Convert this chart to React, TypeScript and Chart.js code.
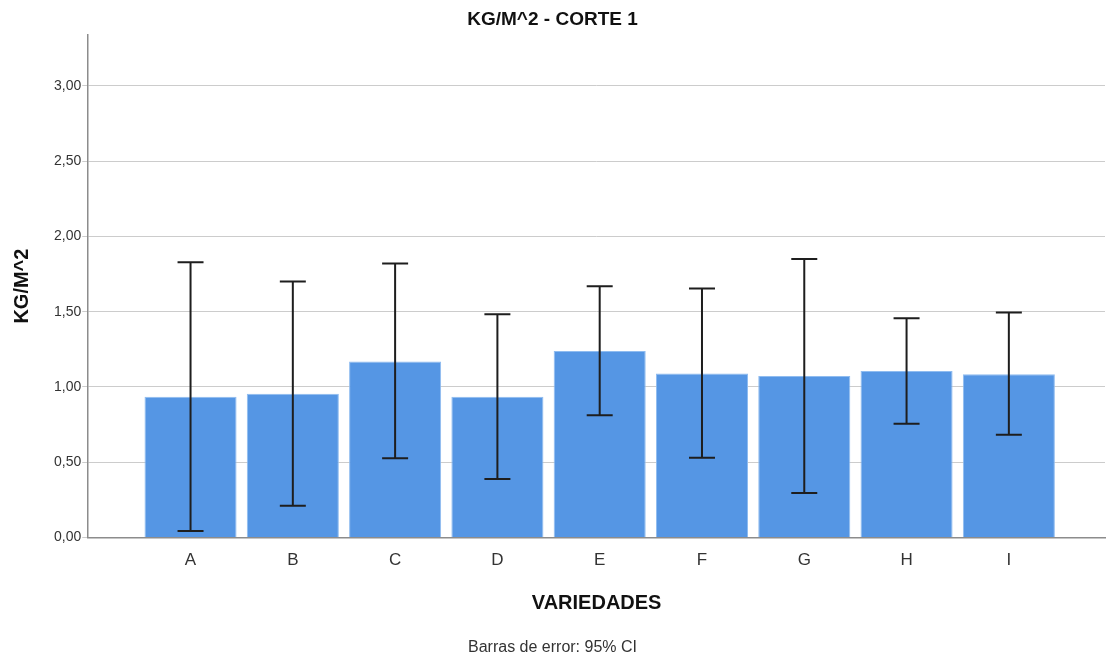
import React, { useEffect, useRef } from "react";
import { Chart, registerables } from "chart.js";

Chart.register(...registerables);

const categories = ["A", "B", "C", "D", "E", "F", "G", "H", "I"];
const means = [0.935, 0.955, 1.169, 0.934, 1.238, 1.09, 1.072, 1.105, 1.085];
const ciLow = [0.043, 0.21, 0.526, 0.388, 0.811, 0.53, 0.295, 0.755, 0.682];
const ciHigh = [1.829, 1.7, 1.82, 1.483, 1.669, 1.654, 1.85, 1.457, 1.495];
const yTicks = [0, 0.5, 1, 1.5, 2, 2.5, 3];

const FONT = "'Liberation Sans', Arial, sans-serif";

const errorBars = {
  id: "errorBars",
  afterDatasetsDraw(chart: any) {
    const meta = chart.getDatasetMeta(0);
    const y = chart.scales.y;
    const ctx = chart.ctx;
    ctx.save();
    ctx.strokeStyle = "#1e1e1e";
    ctx.lineWidth = 2;
    meta.data.forEach((bar: any, i: number) => {
      const x = bar.x;
      const yl = y.getPixelForValue(ciLow[i]);
      const yh = y.getPixelForValue(ciHigh[i]);
      const cap = 13;
      ctx.beginPath();
      ctx.moveTo(x, yl);
      ctx.lineTo(x, yh);
      ctx.moveTo(x - cap, yl);
      ctx.lineTo(x + cap, yl);
      ctx.moveTo(x - cap, yh);
      ctx.lineTo(x + cap, yh);
      ctx.stroke();
    });
    ctx.restore();
  },
};

export default function App() {
  const ref = useRef<HTMLCanvasElement | null>(null);
  useEffect(() => {
    if (!ref.current) return;
    const chart = new Chart(ref.current, {
      type: "bar",
      data: {
        datasets: [
          {
            data: means.map((v, i) => ({ x: i, y: v })),
            backgroundColor: "#5596e4",
            borderColor: "#8fbcf0",
            borderWidth: 1,
            categoryPercentage: 1,
            barPercentage: 0.9,
          },
        ],
      },
      options: {
        animation: false,
        responsive: true,
        maintainAspectRatio: false,
        layout: { padding: { left: 0, right: 3, top: 0, bottom: 0 } },
        plugins: {
          legend: { display: false },
          tooltip: { enabled: false },
          title: {
            display: true,
            text: "KG/M^2 - CORTE 1",
            color: "#111",
            font: { family: FONT, size: 19, weight: "bold" },
            padding: { top: 8, bottom: 4 },
          },
          subtitle: {
            display: true,
            position: "bottom",
            text: "Barras de error: 95% CI",
            color: "#333",
            font: { family: FONT, size: 16 },
            padding: { top: 10, bottom: 0 },
          },
        },
        scales: {
          x: {
            type: "linear",
            min: -1.0,
            max: 8.94,
            offset: false,
            afterBuildTicks: (scale: any) => {
              scale.ticks = categories.map((_, i) => ({ value: i }));
            },
            ticks: {
              callback: (v: any) => categories[v] ?? "",
              color: "#333",
              font: { family: FONT, size: 17 },
              padding: 13,
              maxRotation: 0,
              autoSkip: false,
            },
            grid: { display: false, drawTicks: false },
            border: { display: true, color: "#8c8c8c", width: 1.5 },
            title: {
              display: true,
              text: "VARIEDADES",
              color: "#111",
              font: { family: FONT, size: 20, weight: "bold" },
              padding: { top: 8, bottom: 12 },
            },
          },
          y: {
            min: 0,
            max: 3.34,
            afterBuildTicks: (scale: any) => {
              scale.ticks = yTicks.map((v) => ({ value: v }));
            },
            ticks: {
              callback: (v: any) => Number(v).toFixed(2).replace(".", ","),
              color: "#333",
              font: { family: FONT, size: 14 },
              padding: 1,
            },
            grid: { color: "#cccccc", lineWidth: 1, tickLength: 6 },
            border: { display: true, color: "#8c8c8c", width: 1.5 },
            title: {
              display: true,
              text: "KG/M^2",
              color: "#111",
              font: { family: FONT, size: 20, weight: "bold" },
              padding: { top: 10, bottom: 19 },
            },
          },
        },
      } as any,
      plugins: [errorBars],
    });
    return () => chart.destroy();
  }, []);

  return (
    <div style={{ position: "fixed", left: 0, top: 0, width: 1108, height: 657, background: "#fff" }}>
      <canvas ref={ref} />
    </div>
  );
}
